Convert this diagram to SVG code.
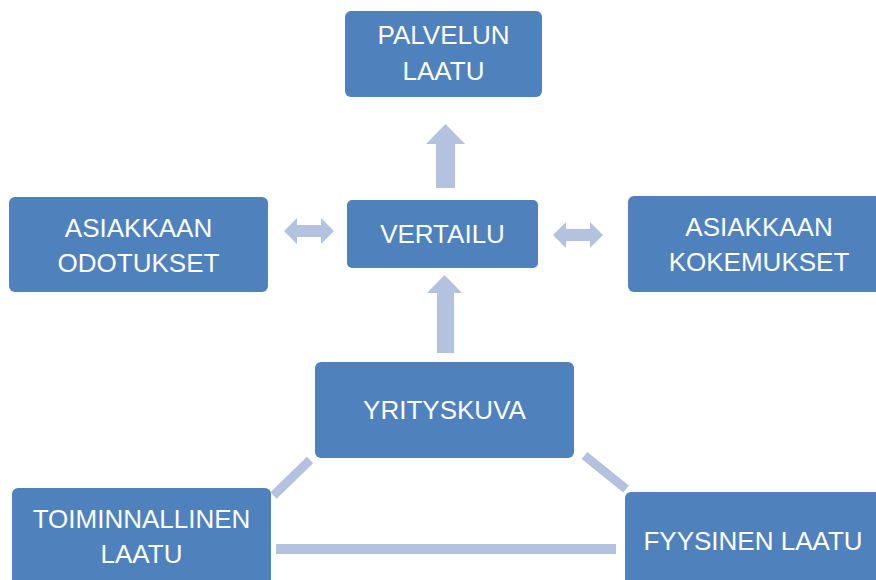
<svg xmlns="http://www.w3.org/2000/svg" width="876" height="580" viewBox="0 0 876 580">
<style>
.box{fill:#4F81BD}
.t{fill:#FFFFFF;font-family:"Liberation Sans","Open Sans",Arial,sans-serif;font-size:26px;text-anchor:middle}
.c{fill:#B3C3DF}
.ln{stroke:#B3C3DF;stroke-width:9;fill:none}
</style>
<rect width="876" height="580" fill="#FFFFFF"/>
<g id="connectors">
  <polygon class="c" points="426,144 445.5,124 465,144 455,144 455,188 436,188 436,144"/>
  <polygon class="c" points="427,293 444.5,275 462,293 454,293 454,353 437,353 437,293"/>
  <polygon class="c" points="284,231 297,218 297,225 321,225 321,218 334,231 321,244 321,237 297,237 297,244"/>
  <polygon class="c" points="553,235 566,222 566,229 590,229 590,222 603,235 590,248 590,241 566,241 566,248"/>
  <line class="ln" x1="273.5" y1="495.5" x2="310" y2="460"/>
  <line class="ln" x1="584.5" y1="455.5" x2="626" y2="489"/>
  <rect class="c" x="276" y="544" width="340" height="10"/>
</g>
<g id="palvelun-laatu">
  <rect class="box" x="345" y="11" width="197" height="86" rx="6"/>
  <text class="t" x="443.5" y="44">PALVELUN</text>
  <text class="t" x="443.5" y="80">LAATU</text>
</g>
<g id="vertailu">
  <rect class="box" x="347" y="200" width="191" height="68" rx="5"/>
  <text class="t" x="442.5" y="243">VERTAILU</text>
</g>
<g id="asiakkaan-odotukset">
  <rect class="box" x="9" y="197" width="259" height="95" rx="6"/>
  <text class="t" x="138.5" y="237">ASIAKKAAN</text>
  <text class="t" x="138.5" y="272">ODOTUKSET</text>
</g>
<g id="asiakkaan-kokemukset">
  <rect class="box" x="628" y="196" width="262" height="96" rx="6"/>
  <text class="t" x="759" y="236">ASIAKKAAN</text>
  <text class="t" x="759" y="271">KOKEMUKSET</text>
</g>
<g id="yrityskuva">
  <rect class="box" x="315" y="362" width="259" height="96" rx="6"/>
  <text class="t" x="444.5" y="419">YRITYSKUVA</text>
</g>
<g id="toiminnallinen-laatu">
  <rect class="box" x="12" y="488" width="259" height="110" rx="6"/>
  <text class="t" x="141.5" y="528">TOIMINNALLINEN</text>
  <text class="t" x="141.5" y="563">LAATU</text>
</g>
<g id="fyysinen-laatu">
  <rect class="box" x="625" y="492" width="259" height="110" rx="6"/>
  <text class="t" x="753" y="550">FYYSINEN LAATU</text>
</g>
</svg>
